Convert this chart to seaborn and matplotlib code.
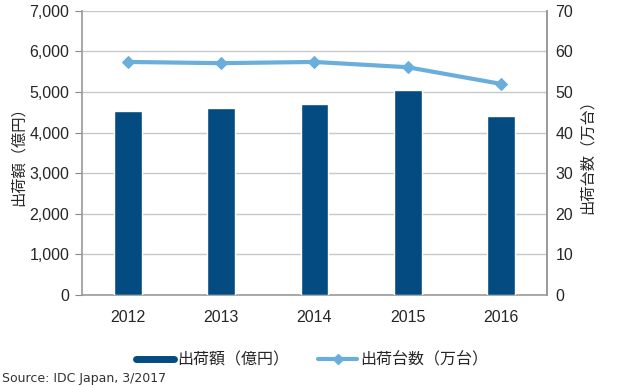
import pandas as pd
import matplotlib.pyplot as plt
import seaborn as sns
from matplotlib.lines import Line2D

# データ
years = ['2012', '2013', '2014', '2015', '2016']
shipment_value = [4530, 4600, 4700, 5050, 4410]   # 出荷額（億円）
shipment_units = [57.4, 57.1, 57.4, 56.1, 52.0]   # 出荷台数（万台）

BAR_COLOR = '#034b80'
LINE_COLOR = '#6aaedb'

sns.set_style('white')
plt.rcParams['font.family'] = ['Liberation Sans', 'Noto Sans CJK JP', 'DejaVu Sans']

df = pd.DataFrame({'year': years, 'value': shipment_value, 'units': shipment_units})
df['pos'] = range(len(df))

fig = plt.figure(figsize=(6.24, 3.86), dpi=100)
ax = fig.add_axes([0.131, 0.236, 0.746, 0.736])

sns.barplot(data=df, x='year', y='value', color=BAR_COLOR, width=0.3,
            saturation=1, ax=ax, zorder=3)
ax.set_ylim(0, 7000)
ax.set_xlim(-0.5, 4.5)
ax.set_yticks(range(0, 7001, 1000))
ax.set_yticklabels([f'{v:,}' for v in range(0, 7001, 1000)], fontsize=11.5)
ax.set_xticklabels(years, fontsize=11.5)
ax.grid(axis='y', color='#c8c8c8', linewidth=1, zorder=0)
ax.set_xlabel('')
ax.set_ylabel('出荷額（億円）', fontsize=11, family=['Noto Sans CJK JP'], labelpad=2)
ax.tick_params(axis='y', length=5, color='#888888', direction='out', pad=4)
ax.tick_params(axis='x', length=5, color='#888888', direction='out', pad=6)
for side in ['left', 'bottom', 'right']:
    ax.spines[side].set_color('#999999')
    ax.spines[side].set_linewidth(1.2)
ax.spines['top'].set_visible(False)

ax2 = ax.twinx()
sns.lineplot(data=df, x='pos', y='units', color=LINE_COLOR, linewidth=3,
             marker='D', markersize=6, markeredgecolor=LINE_COLOR, ax=ax2)
ax2.set_ylim(0, 70)
ax2.set_xlim(-0.5, 4.5)
ax2.set_yticks(range(0, 71, 10))
ax2.set_yticklabels([str(v) for v in range(0, 71, 10)], fontsize=11.5)
ax2.set_ylabel('出荷台数（万台）', fontsize=11, family=['Noto Sans CJK JP'], labelpad=4)
ax2.tick_params(axis='y', length=0, pad=6)
ax2.set_xlabel('')
for side in ['top', 'left', 'bottom']:
    ax2.spines[side].set_visible(False)
ax2.spines['right'].set_color('#999999')
ax2.spines['right'].set_linewidth(1.2)

handles = [
    Line2D([0], [0], color=BAR_COLOR, linewidth=5),
    Line2D([0], [0], color=LINE_COLOR, linewidth=3, marker='D', markersize=5),
]
fig.legend(handles, ['出荷額（億円）', '出荷台数（万台）'], loc='center',
           bbox_to_anchor=(0.5, 0.068), ncol=2, frameon=False,
           prop={'family': 'Noto Sans CJK JP', 'size': 11.5},
           handlelength=2.4, columnspacing=1.8, handletextpad=0.2)

fig.text(0.003, 0.003, 'Source: IDC Japan, 3/2017', fontsize=9,
         family='DejaVu Sans', color='#333333', ha='left', va='bottom')

fig.savefig('out.png', dpi=100)
